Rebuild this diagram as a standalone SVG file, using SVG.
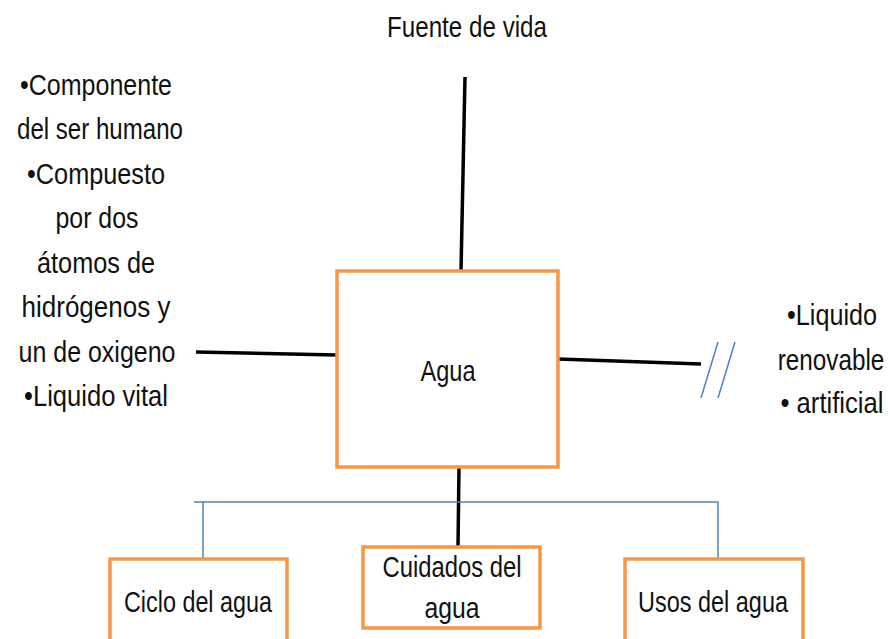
<svg xmlns="http://www.w3.org/2000/svg" width="892" height="639" viewBox="0 0 892 639">
<style>
text{font-family:"Liberation Sans",Arial,sans-serif;font-size:30px;fill:#111;}
.box{fill:#fff;stroke:#F79646;stroke-width:3.5;}
.blk{stroke:#000;stroke-width:3.5;fill:none;stroke-linecap:butt;}
.blu{stroke:#4F81BD;stroke-width:1.5;fill:none;}
</style>
<rect width="892" height="639" fill="#fff"/>
<g id="connectors">
<line class="blk" x1="465" y1="77" x2="461" y2="271"/>
<line class="blk" x1="196" y1="352" x2="337" y2="355"/>
<line class="blk" x1="558" y1="359" x2="701" y2="364"/>
<line class="blk" x1="459" y1="467" x2="458" y2="547"/>
<line class="blu" x1="701" y1="398" x2="718" y2="342"/>
<line class="blu" x1="718" y1="398" x2="735" y2="342"/>
<polyline class="blu" points="203,558 203,502 194,502 718,502 718,558"/>
</g>
<g id="fuente"><text x="467" y="37" text-anchor="middle" textLength="160" lengthAdjust="spacingAndGlyphs">Fuente de vida</text></g>
<g id="left-text">
<text x="96" y="95" text-anchor="middle" textLength="152" lengthAdjust="spacingAndGlyphs">•Componente</text>
<text x="100" y="139" text-anchor="middle" textLength="166" lengthAdjust="spacingAndGlyphs">del ser humano</text>
<text x="96" y="184" text-anchor="middle" textLength="138" lengthAdjust="spacingAndGlyphs">•Compuesto</text>
<text x="97" y="228" text-anchor="middle" textLength="83" lengthAdjust="spacingAndGlyphs">por dos</text>
<text x="96" y="273" text-anchor="middle" textLength="118" lengthAdjust="spacingAndGlyphs">átomos de</text>
<text x="96" y="317" text-anchor="middle" textLength="149" lengthAdjust="spacingAndGlyphs">hidrógenos  y</text>
<text x="97" y="362" text-anchor="middle" textLength="157" lengthAdjust="spacingAndGlyphs">un de oxigeno</text>
<text x="96" y="406" text-anchor="middle" textLength="144" lengthAdjust="spacingAndGlyphs">•Liquido vital</text>
</g>
<g id="right-text">
<text transform="translate(832,325) scale(0.84,1)" text-anchor="middle">•Liquido</text>
<text transform="translate(831,370) scale(0.81,1)" text-anchor="middle">renovable</text>
<text transform="translate(832,413) scale(0.855,1)" text-anchor="middle">• artificial</text>
</g>
<g id="agua">
<rect class="box" x="337" y="271" width="221" height="196"/>
<text x="448" y="381" text-anchor="middle" textLength="55" lengthAdjust="spacingAndGlyphs">Agua</text>
</g>
<g id="ciclo">
<rect class="box" x="110" y="559" width="177" height="84"/>
<text x="198" y="612" text-anchor="middle" textLength="148" lengthAdjust="spacingAndGlyphs">Ciclo del agua</text>
</g>
<g id="cuidados">
<rect class="box" x="363" y="547" width="177" height="81"/>
<text x="452" y="577" text-anchor="middle" textLength="139" lengthAdjust="spacingAndGlyphs">Cuidados del</text>
<text x="452" y="618" text-anchor="middle" textLength="55" lengthAdjust="spacingAndGlyphs">agua</text>
</g>
<g id="usos">
<rect class="box" x="625" y="559" width="178" height="84"/>
<text x="713" y="612" text-anchor="middle" textLength="150" lengthAdjust="spacingAndGlyphs">Usos del agua</text>
</g>
</svg>
